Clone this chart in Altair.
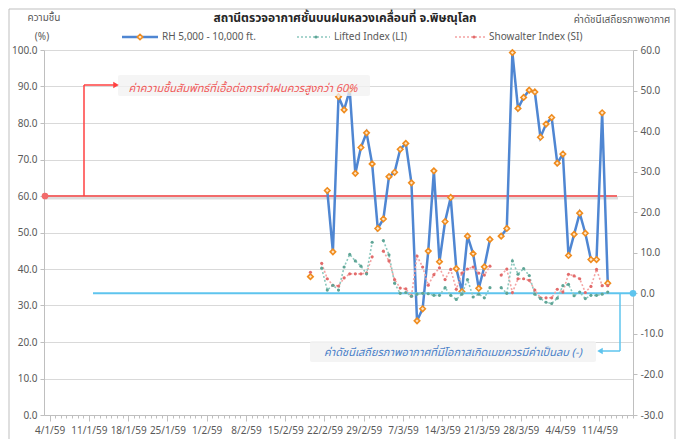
import altair as alt
import pandas as pd

# ---------------- data ----------------
dates = pd.date_range("2016-02-19", "2016-04-12", freq="D").strftime("%Y-%m-%d").tolist()

RH = [37.9, None, None, 61.5, 44.7, 87.2, 83.6, 89.0, 66.2, 73.3,
      77.3, 68.8, 51.1, 53.7, 65.3, 66.5, 72.8, 74.4, 63.6, 25.8,
      29.1, 44.9, 66.9, 42.0, 53.0, 59.6, 40.1, 33.8, 49.0, 44.2,
      34.7, 40.6, 48.1, None, 49.0, 51.1, 99.3, 84.0, 87.0, 89.0,
      88.5, 76.1, 79.7, 81.5, 69.0, 71.5, 43.7, 49.5, 55.3, 49.8,
      42.6, 42.6, 82.8, 36.1]

LI = [None, None, 6.2, 0.8, 2.0, 0.8, 6.5, 9.6, 8.0, 6.7,
      4.8, 12.6, None, 13.0, 9.5, 2.5, 0.0, 0.2, -0.7, -0.2,
      0.0, -0.1, -0.5, -0.5, 1.4, -0.5, -1.5, -0.2, 3.4, -0.9,
      -0.2, -1.1, 1.4, None, 1.4, 0.0, 8.0, 4.7, 6.1, 4.4,
      -0.2, -1.3, -2.2, -2.5, -1.2, 1.9, 2.2, -0.6, 0.3, -1.3,
      -0.5, -0.5, -0.2, 0.3]

SI = [5.2, None, 7.4, 3.6, 2.0, 1.8, 3.8, 4.8, 4.8, 4.8,
      5.0, 9.0, None, 10.4, 8.0, 3.4, 1.3, 1.1, -0.7, 9.2,
      6.5, 2.0, 4.6, 6.3, 3.4, 5.9, 1.0, 5.0, 6.0, 6.5,
      5.0, 4.5, 6.7, None, 4.5, 6.0, 0.2, 3.6, 3.6, 3.2,
      0.8, -1.1, -1.1, -1.1, 1.0, 0.3, 4.7, 4.3, 3.6, 0.2,
      1.7, 5.9, 1.9, 1.9]

left_ticks = [0, 10, 20, 30, 40, 50, 60, 70, 80, 90, 100]
right_ticks = [-30, -20, -10, 0, 10, 20, 30, 40, 50, 60]

TITLE = "สถานีตรวจอากาศชั้นบนฝนหลวงเคลื่อนที่ จ.พิษณุโลก"
LEFT_T1 = "ความชื้น"
LEFT_T2 = "(%)"
RIGHT_T = "ค่าดัชนีเสถียรภาพอากาศ"
LEG = ["RH 5,000 - 10,000 ft.", "Lifted Index (LI)", "Showalter Index (SI)"]
NOTE1 = "ค่าความชื้นสัมพัทธ์ที่เอื้อต่อการทำฝนควรสูงกว่า 60%"
NOTE2 = "ค่าดัชนีเสถียรภาพอากาศที่มีโอกาสเกิดเมฆควรมีค่าเป็นลบ (-)"

# ---------------- helpers ----------------
FONT = "Tahoma, 'Leelawadee UI', 'Noto Sans Thai', Loma, 'Liberation Sans', 'Noto Sans', sans-serif"
GREY = "#595959"
W, H = 589, 365


def seg_frame(name, vals):
    rows, seg = [], 0
    for d, v in zip(dates, vals):
        if v is None:
            seg += 1
            continue
        rows.append({"date": d, "value": v, "series": name, "seg": f"{name}-{seg}"})
    return pd.DataFrame(rows)


rh_df = seg_frame("RH", RH)
li_df = seg_frame("LI", LI)
si_df = seg_frame("SI", SI)

ms = lambda s: int(pd.Timestamp(s, tz="UTC").value // 10**6)
dom = [ms("2016-01-03"), ms("2016-04-17")]
tick_vals = [ms(d) for d in pd.date_range("2016-01-04", "2016-04-17", freq="D")]

x_axis = alt.Axis(
    values=tick_vals,
    labelExpr="utcday(datum.value)==1 ? utcdate(datum.value) + '/' + (utcmonth(datum.value)+1) + '/59' : ''",
    labelOverlap=False,
    labelFont=FONT, labelFontSize=10, labelColor=GREY, labelPadding=4,
    tickSize={"condition": {"test": "utcday(datum.value)==1", "value": 6}, "value": 3},
    tickColor="#BFBFBF", domainColor="#BFBFBF", grid=False, title=None,
)
X = alt.X("date:T", timeUnit="utcyearmonthdate", bandPosition=0.5,
          scale=alt.Scale(type="utc", domain=dom), axis=x_axis)

yl_scale = alt.Scale(domain=[0, 100], nice=False, zero=False)
yr_scale = alt.Scale(domain=[-30, 60], nice=False, zero=False)
yl_axis = alt.Axis(values=left_ticks, format=".1f", grid=True, gridColor="#D9D9D9",
                   labelOverlap=False, tickCount=11,
                   domainColor="#BFBFBF", tickColor="#BFBFBF", tickSize=4,
                   labelFont=FONT, labelFontSize=10, labelColor=GREY, labelPadding=3, title=None)
yr_axis = alt.Axis(values=right_ticks, format=".1f", grid=False, orient="right",
                   labelOverlap=False, tickCount=10,
                   domainColor="#BFBFBF", tickColor="#BFBFBF", tickSize=4,
                   labelFont=FONT, labelFontSize=10, labelColor=GREY, labelPadding=3, title=None)

YL = alt.Y("value:Q", scale=yl_scale, axis=yl_axis)
YR = alt.Y("value:Q", scale=yr_scale, axis=yr_axis)

one = pd.DataFrame({"k": [0]})


def txt(s, x, y, **kw):
    base = dict(font=FONT, fontSize=10, color=GREY)
    base.update(kw)
    return alt.Chart(pd.DataFrame({"t": [s]})).mark_text(**base).encode(
        text="t:N", x=alt.value(x), y=alt.value(y))


def hline(x1, x2, y, **kw):
    return alt.Chart(one).mark_rule(**kw).encode(x=alt.value(x1), x2=alt.value(x2), y=alt.value(y))


def vline(x, y1, y2, **kw):
    return alt.Chart(one).mark_rule(**kw).encode(x=alt.value(x), y=alt.value(y1), y2=alt.value(y2))


def pt(x, y, **kw):
    return alt.Chart(one).mark_point(**kw).encode(x=alt.value(x), y=alt.value(y))


# ---------------- left (RH) group ----------------
RED = "#F26B6B"
CYAN = "#5EC4EE"
BLUE = "#4F86D2"
ORANGE = "#F08C1E"

rh_line = alt.Chart(rh_df).mark_line(color=BLUE, strokeWidth=2.5).encode(
    x=X, y=YL, detail="seg:N")
rh_pts = alt.Chart(rh_df).mark_point(shape="diamond", filled=True, fill="#FDE6C8",
                                     stroke=ORANGE, strokeWidth=1.6, size=30, opacity=1).encode(
    x=X, y=YL)

rule60_shadow = alt.Chart(one).mark_rule(color="#DDDDDD", strokeWidth=3).encode(
    x=alt.value(1), x2=alt.value(574), y=alt.YDatum(60, scale=yl_scale, axis=yl_axis),
    yOffset=alt.value(2))
rule60 = alt.Chart(one).mark_rule(color=RED, strokeWidth=2).encode(
    x=alt.value(0), x2=alt.value(573), y=alt.YDatum(60, scale=yl_scale, axis=yl_axis))
dot60 = alt.Chart(one).mark_point(filled=True, color=RED, size=45, opacity=1).encode(
    x=alt.value(1), y=alt.YDatum(60, scale=yl_scale, axis=yl_axis))

left = alt.layer(rule60_shadow, rule60, rh_line, rh_pts, dot60)

# ---------------- right (LI / SI) group ----------------
li_line = alt.Chart(li_df).mark_line(color="#8CC8BE", strokeWidth=1.6, strokeDash=[2, 2]).encode(
    x=X, y=YR, detail="seg:N")
li_pts = alt.Chart(li_df).mark_point(filled=True, color="#5FA596", size=10, opacity=1).encode(
    x=X, y=YR)
si_line = alt.Chart(si_df).mark_line(color="#F4A3A3", strokeWidth=1.6, strokeDash=[2, 2]).encode(
    x=X, y=YR, detail="seg:N")
si_pts = alt.Chart(si_df).mark_point(filled=True, color="#E26B6B", size=10, opacity=1).encode(
    x=X, y=YR)

rule0 = alt.Chart(one).mark_rule(color=CYAN, strokeWidth=2).encode(
    x=alt.value(49), x2=alt.value(589), y=alt.YDatum(0, scale=yr_scale, axis=yr_axis))
dot0 = alt.Chart(one).mark_point(filled=True, color=CYAN, size=45, opacity=1).encode(
    x=alt.value(589), y=alt.YDatum(0, scale=yr_scale, axis=yr_axis))
arrow2_v = alt.Chart(one).mark_rule(color=CYAN, strokeWidth=1.5).encode(
    x=alt.value(576), y=alt.YDatum(0, scale=yr_scale, axis=yr_axis), y2=alt.value(301))

right = alt.layer(rule0, si_line, li_line, si_pts, li_pts, dot0, arrow2_v)

# ---------------- decorations ----------------
frame = alt.Chart(one).mark_rect(fill="transparent", stroke="#BFBFBF", strokeWidth=1).encode(
    x=alt.value(-35), x2=alt.value(631), y=alt.value(-41), y2=alt.value(420))

box1 = alt.Chart(one).mark_rect(fill="#F2F2F2", opacity=0.75, cornerRadius=2).encode(
    x=alt.value(74), x2=alt.value(326), y=alt.value(25), y2=alt.value(46))
box2 = alt.Chart(one).mark_rect(fill="#F2F2F2", opacity=0.85, cornerRadius=2).encode(
    x=alt.value(266), x2=alt.value(552), y=alt.value(291), y2=alt.value(312))

arrow1_v = vline(40, 146, 35, color="#FF4040", strokeWidth=1.5)
arrow1_h = hline(40, 71, 35, color="#FF4040", strokeWidth=1.5)
arrow1_head = pt(72, 35, shape="triangle-right", filled=True, color="#FF4040", size=40, opacity=1)

arrow2_h = hline(557, 576, 301, color=CYAN, strokeWidth=1.5)
arrow2_head = pt(556, 301, shape="triangle-left", filled=True, color=CYAN, size=40, opacity=1)

note1 = txt(NOTE1, 199, 39, fontSize=11, fontStyle="italic", color="#F05A5A")
note2 = txt(NOTE2, 409, 303, fontSize=11, fontStyle="italic", color="#4A7FC8")

title = txt(TITLE, 301, -32, fontSize=12, fontWeight="bold", color="#262626")
lt1 = txt(LEFT_T1, 0, -32)
lt2 = txt(LEFT_T2, -2, -13)
rt = txt(RIGHT_T, 578, -30)

# legend
leg_rh_line = hline(78, 114, -13, color=BLUE, strokeWidth=2.5)
leg_rh_pt = pt(96, -13, shape="diamond", filled=True, fill="#FDE6C8", stroke=ORANGE,
               strokeWidth=1.6, size=30, opacity=1)
leg_rh_t = txt(LEG[0], 118, -13, align="left")
leg_li_line = hline(253, 286, -13, color="#8CC8BE", strokeWidth=1.6, strokeDash=[2, 2])
leg_li_pt = pt(272, -13, filled=True, color="#5FA596", size=10, opacity=1)
leg_li_t = txt(LEG[1], 290, -13, align="left")
leg_si_line = hline(411, 441, -13, color="#F4A3A3", strokeWidth=1.6, strokeDash=[2, 2])
leg_si_pt = pt(430, -13, filled=True, color="#E26B6B", size=10, opacity=1)
leg_si_t = txt(LEG[2], 445, -13, align="left")

deco = alt.layer(frame, box1, box2, arrow1_v, arrow1_h, arrow1_head, arrow2_h, arrow2_head,
                 note1, note2, title, lt1, lt2, rt,
                 leg_rh_line, leg_rh_pt, leg_rh_t, leg_li_line, leg_li_pt, leg_li_t,
                 leg_si_line, leg_si_pt, leg_si_t)

chart = alt.layer(left, right, deco).resolve_scale(y="independent").properties(
    width=W, height=H,
    autosize=alt.AutoSizeParams(type="none"),
    padding={"left": 36, "top": 42, "right": 44, "bottom": 24},
    background="white",
).configure_view(stroke=None)

chart.save("out.html", embed_options={"renderer": "svg", "actions": False})
